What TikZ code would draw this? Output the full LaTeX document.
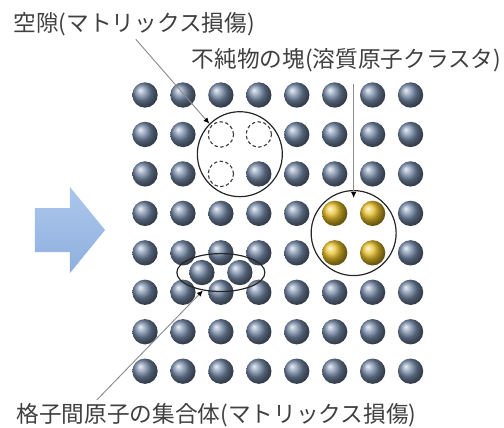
\documentclass[tikz,border=0pt]{standalone}
\usepackage{fontspec}
\setmainfont{Noto Sans CJK JP}
\usetikzlibrary{shapes.geometric, arrows.meta}
\definecolor{atomblue}{RGB}{118,138,168}
\definecolor{atomgold}{RGB}{232,192,40}
\definecolor{labelgray}{RGB}{64,64,64}

\begin{document}
\begin{tikzpicture}[x=1cm, y=1.04cm, radius=9.5pt,
    atom/.style={ball color=atomblue},
    solute/.style={ball color=atomgold},
    hole/.style={draw=black!75, dash pattern=on 2.6pt off 1.8pt, line width=0.85pt},
    ring/.style={draw=black!85, line width=0.9pt, inner sep=0pt},
    callout/.style={draw=black!45, line width=0.7pt, -{Latex[black, length=4.5pt, width=4pt]}},
    labeltext/.style={anchor=west, inner sep=1pt, text=labelgray, font=\fontsize{17}{20}\selectfont}]
    \useasboundingbox (-3.822,2.408) rectangle (9.463,-8.415);
    \shade[top color={rgb,255:red,172;green,199;blue,236}, bottom color={rgb,255:red,142;green,175;blue,222}]
        (-2.90,-2.864) -- (-1.977,-2.864) -- (-1.977,-2.332) -- (-1.054,-3.422)
        -- (-1.977,-4.512) -- (-1.977,-3.98) -- (-2.90,-3.98) -- cycle;
    \foreach \i in {0,...,7}
        \foreach \j in {0,...,7} {
            \pgfmathtruncatemacro\gap{(\j==1 && (\i==2 || \i==3)) || (\j==2 && \i==2) || ((\j==3 || \j==4) && (\i==5 || \i==6))}
            \ifnum\gap=0 \shade[atom] (\i,-\j) circle; \fi
        }
    \foreach \p in {(2,-1),(3,-1),(2,-2)}
        \draw[hole] \p circle;
    \foreach \p in {(5,-3),(6,-3),(5,-4),(6,-4)}
        \shade[solute] \p circle;
    \shade[atom] (1.5,-4.5) circle;
    \shade[atom] (2.5,-4.5) circle;
    \node[ring, circle, minimum size=2.24cm] (vac) at (2.5,-1.5) {};
    \node[ring, circle, minimum size=2.24cm] (imp) at (5.5,-3.5) {};
    \node[ring, ellipse, minimum width=2.32cm, minimum height=1cm] (int) at (2,-4.5) {};
    \node[labeltext] (vaclabel) at (-3.51,1.80) {空隙(マトリックス損傷)};
    \node[labeltext] (implabel) at (1.19,0.89) {不純物の塊(溶質原子クラスタ)};
    \node[labeltext] (intlabel) at (-3.43,-8.12) {格子間原子の集合体(マトリックス損傷)};
    \coordinate (intfoot) at (-1.27,-7.73);
    \draw[callout, shorten <=2pt] (vaclabel.south) -- (vac.north west);
    \draw[callout, shorten <=8pt, shorten >=-6pt] (implabel.south -| imp.north) -- (imp.north);
    \draw[callout] (intfoot) -- (int.225);
\end{tikzpicture}
\end{document}
